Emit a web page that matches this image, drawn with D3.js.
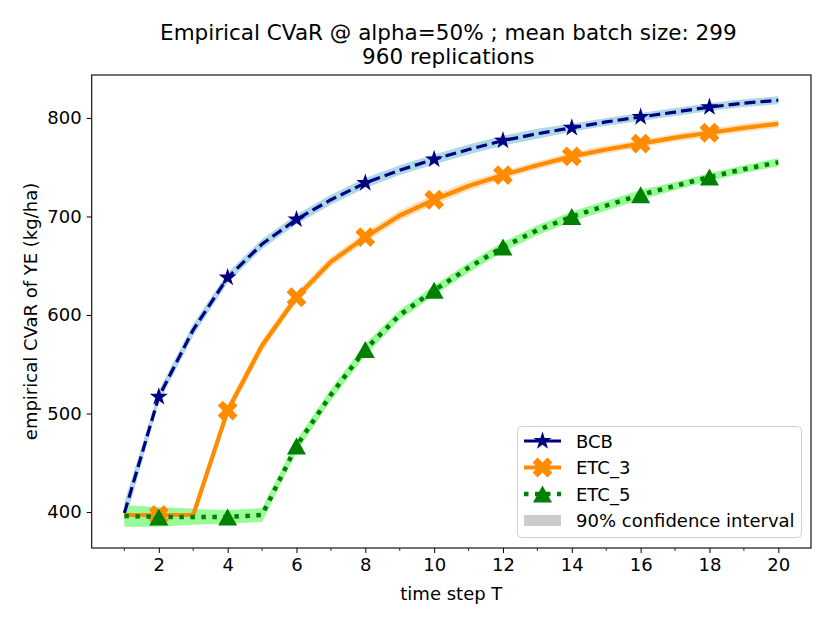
<!DOCTYPE html>
<html><head><meta charset="utf-8">
<script src="https://cdn.jsdelivr.net/npm/d3@7"></script>
<style>
body{margin:0;background:#fff;}
text{font-family:"DejaVu Sans",sans-serif;fill:#000;}
</style></head>
<body><svg id="c" width="830" height="623"></svg>
<script>
// ---- data ----
const steps = [1,2,3,4,5,6,7,8,9,10,11,12,13,14,15,16,17,18,19,20];
const bcb   = [399,517,585,638,672,697,717,734,747,758,768,777,784,790,796,801,806,811,815,818];
const etc3  = [397,397,397,503,569,618,654,679,701,717,731,742,752,761,768,774,780,785,790,794];
const etc5  = [396,395,395,395,397,467,519,565,600,625,648,669,686,700,711,722,731,740,748,755];
const bcbCI  = [11,6,6,5,5,5,5,5,5,5,5,5,5,4,4,4,4,4,4,4];
const etc3CI = [8,7,7,6,6,5,5,5,5,5,5,4,4,4,4,4,4,4,4,4];
const etc5CI = [11,10,8,7,7,6,6,6,5,5,5,5,5,5,5,5,4,4,4,4];
const xTickLabels = [2,4,6,8,10,12,14,16,18,20];
const yTickLabels = [400,500,600,700,800];
const seriesNames = ["BCB","ETC_3","ETC_5"];
const ciLabel = "90% confidence interval";
const titleLines = ["Empirical CVaR @ alpha=50% ; mean batch size: 299","960 replications"];

const svg = d3.select("#c");
const L=91.7, R=811, T=75, B=548;
const FS=18;
const x = d3.scaleLinear().domain([0.05,20.95]).range([L,R]);
const y = d3.scaleLinear().domain([363.5,843.6]).range([B,T]);

const series = [
  {name:seriesNames[0], v:bcb, ci:bcbCI, color:"#000080", band:"#add8e6", bandOp:1, width:3.2, dash:"11,5", marker:"star"},
  {name:seriesNames[1], v:etc3, ci:etc3CI, color:"#ff8c00", band:"#ffb866", bandOp:0.45, width:4.2, dash:null, marker:"x"},
  {name:seriesNames[2], v:etc5, ci:etc5CI, color:"#008000", band:"#98fb98", bandOp:1, width:4.5, dash:"4.5,6.5", marker:"tri"}
];

function markerPath(type){
  if(type==="star"){
    const Ro=9.5, Ri=Ro*0.381966; let p=[];
    for(let i=0;i<10;i++){const r=i%2?Ri:Ro; const a=-Math.PI/2+i*Math.PI/5; p.push([r*Math.cos(a),r*Math.sin(a)]);}
    return "M"+p.map(d=>d.join(",")).join("L")+"Z";
  }
  if(type==="x"){
    const s=21, pts=[[-1,-3],[1,-3],[1,-1],[3,-1],[3,1],[1,1],[1,3],[-1,3],[-1,1],[-3,1],[-3,-1],[-1,-1]];
    const c=Math.SQRT1_2;
    return "M"+pts.map(([a,b])=>{a=a/6*s;b=b/6*s;return [(a-b)*c,(a+b)*c].join(",");}).join("L")+"Z";
  }
  const w=9.5,h=8.5;
  return `M0,${-h}L${w},${h}L${-w},${h}Z`;
}

const plot = svg.append("g");
plot.append("clipPath").attr("id","clip").append("rect").attr("x",L).attr("y",T).attr("width",R-L).attr("height",B-T);
const g = plot.append("g").attr("clip-path","url(#clip)");

// bands
series.forEach(s=>{
  const area = d3.area().x((d,i)=>x(steps[i])).y0((d,i)=>y(d-s.ci[i])).y1((d,i)=>y(d+s.ci[i]));
  g.append("path").attr("d",area(s.v)).attr("fill",s.band).attr("fill-opacity",s.bandOp);
});
// lines
series.forEach(s=>{
  const line=d3.line().x((d,i)=>x(steps[i])).y(d=>y(d));
  const p=g.append("path").attr("d",line(s.v)).attr("fill","none").attr("stroke",s.color)
   .attr("stroke-width",s.width).attr("stroke-linejoin","round");
  if(s.dash) p.attr("stroke-dasharray",s.dash);
});
// markers (every 2nd point: steps 2..18)
series.forEach(s=>{
  g.selectAll(null).data(s.v.map((d,i)=>[steps[i],d]).filter((d,i)=>i%2===1 && i<steps.length-1)).enter()
   .append("path").attr("d",markerPath(s.marker)).attr("fill",s.color)
   .attr("transform",d=>`translate(${x(d[0])},${y(d[1])})`);
});

// axes
const xAxis = d3.axisBottom(x).tickValues(xTickLabels).tickSize(5).tickSizeOuter(0).tickPadding(5);
const xa = svg.append("g").attr("transform",`translate(0,${B})`).call(xAxis);
xa.selectAll("text").attr("font-size",FS).attr("font-family","DejaVu Sans");
xa.select(".domain").remove();
svg.append("g").attr("transform",`translate(0,${B})`).selectAll("line").data(steps.filter(d=>d%2===1)).enter()
  .append("line").attr("x1",d=>x(d)).attr("x2",d=>x(d)).attr("y1",0).attr("y2",3).attr("stroke","#000").attr("stroke-width",0.8);
const yAxis = d3.axisLeft(y).tickValues(yTickLabels).tickSize(5).tickSizeOuter(0).tickPadding(5);
const ya = svg.append("g").attr("transform",`translate(${L},0)`).call(yAxis);
ya.selectAll("text").attr("font-size",FS).attr("font-family","DejaVu Sans");
ya.select(".domain").remove();
svg.selectAll(".tick line").attr("stroke-width",1);
svg.append("rect").attr("x",L).attr("y",T).attr("width",R-L).attr("height",B-T).attr("fill","none").attr("stroke","#000").attr("stroke-width",1.1);

// labels
svg.append("text").attr("x",(L+R)/2).attr("y",600).attr("text-anchor","middle").attr("font-size",FS).text("time step T");
svg.append("text").attr("transform",`translate(37,${(T+B)/2}) rotate(-90)`).attr("text-anchor","middle").attr("font-size",FS).text("empirical CVaR of YE (kg/ha)");
titleLines.forEach((t,i)=>svg.append("text").attr("x",(L+R)/2 - 3).attr("y",40+i*24).attr("text-anchor","middle").attr("font-size",21.5).text(t));

// legend
const lg = svg.append("g");
lg.append("rect").attr("x",517.5).attr("y",426.5).attr("width",284).attr("height",111).attr("rx",4)
  .attr("fill","#fff").attr("fill-opacity",0.8).attr("stroke","#d0d0d0").attr("stroke-width",1);
const rowY=[441,467.5,494,520.5];
series.forEach((s,i)=>{
  const l=lg.append("line").attr("x1",524).attr("x2",561).attr("y1",rowY[i]).attr("y2",rowY[i]).attr("stroke",s.color).attr("stroke-width",s.width);
  if(s.dash) l.attr("stroke-dasharray", s.marker==="tri"?"4.5,6.5":"13,0");
  lg.append("path").attr("d",markerPath(s.marker)).attr("fill",s.color).attr("transform",`translate(542.5,${rowY[i]})`);
  lg.append("text").attr("x",576).attr("y",rowY[i]+6.5).attr("font-size",FS).text(s.name);
});
lg.append("rect").attr("x",524).attr("y",rowY[3]-5.5).attr("width",37).attr("height",11).attr("fill","#cccccc");
lg.append("text").attr("x",576).attr("y",rowY[3]+6.5).attr("font-size",FS).text(ciLabel);
</script></body></html>
